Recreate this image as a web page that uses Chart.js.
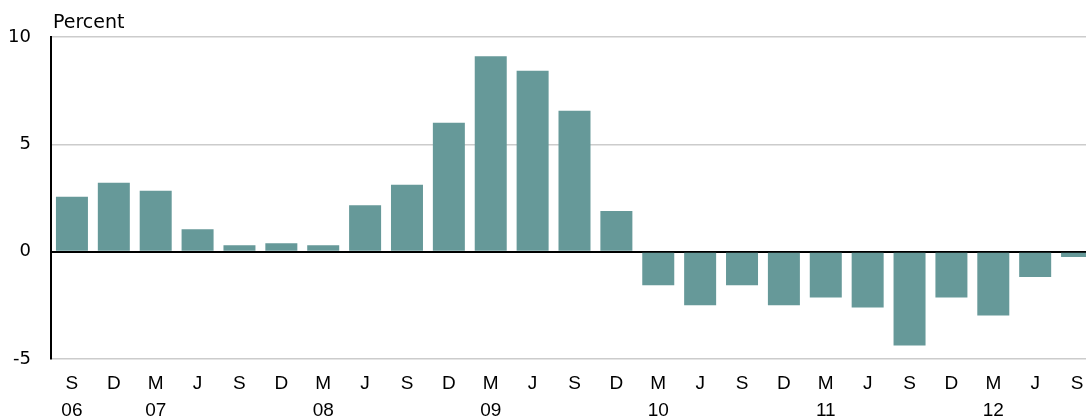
<!DOCTYPE html>
<html>
<head>
<meta charset="utf-8">
<script src="https://cdn.jsdelivr.net/npm/chart.js@4/dist/chart.umd.min.js"></script>
<style>
  html, body { margin: 0; padding: 0; background: #fff; overflow: hidden; }
  #wrap { width: 1100px; height: 419px; }
</style>
</head>
<body>
<div id="wrap"><canvas id="c" width="1100" height="419"></canvas></div>
<script>
const months = ['S','D','M','J','S','D','M','J','S','D','M','J','S','D','M','J','S','D','M','J','S','D','M','J','S'];
const years  = ['06','','07','','','','08','','','','09','','','','10','','','','11','','','','12','',''];
const values = [2.56, 3.21, 2.84, 1.04, 0.30, 0.39, 0.30, 2.16, 3.12, 6.00, 9.10, 8.43, 6.56, 1.89,
                -1.56, -2.50, -1.56, -2.50, -2.13, -2.60, -4.37, -2.13, -2.97, -1.18, -0.25];
const yTicks = [-5, 0, 5, 10];
const unitLabel = 'Percent';

const labels = months.map((m, i) => years[i] ? [m, years[i]] : [m]);
const FONT = "'Liberation Sans', Arial, sans-serif";
const FONT_WIDE = "'DejaVu Sans', 'Liberation Sans', sans-serif";

const unitPlugin = {
  id: 'unitLabel',
  afterDraw(chart) {
    const ctx = chart.ctx;
    ctx.save();
    ctx.font = "19px " + FONT_WIDE;
    ctx.fillStyle = '#000';
    ctx.textAlign = 'left';
    ctx.textBaseline = 'alphabetic';
    ctx.fillText(unitLabel, chart.chartArea.left + 2, 28);
    ctx.restore();
  }
};

new Chart(document.getElementById('c'), {
  type: 'bar',
  data: {
    labels: labels,
    datasets: [{
      data: values,
      backgroundColor: '#669999',
      borderWidth: 0,
      barPercentage: 0.764,
      categoryPercentage: 1.0
    }]
  },
  options: {
    responsive: false,
    animation: false,
    devicePixelRatio: 1,
    layout: { padding: { top: 37, right: 2, left: 0, bottom: 0 } },
    plugins: { legend: { display: false }, tooltip: { enabled: false }, title: { display: false } },
    scales: {
      x: {
        grid: { display: false, drawTicks: false },
        border: { display: false },
        ticks: {
          autoSkip: false, maxRotation: 0, minRotation: 0,
          color: '#000', padding: 12,
          font: { family: FONT, size: 19, lineHeight: 1.38 }
        },
        afterFit(scale) { scale.height = 60; }
      },
      y: {
        min: -5, max: 10,
        afterBuildTicks(scale) { scale.ticks = yTicks.map(v => ({ value: v })); },
        grid: {
          drawTicks: false,
          color: ctx => (ctx.tick && ctx.tick.value === 0) ? '#000000' : '#cccccc',
          lineWidth: ctx => (ctx.tick && ctx.tick.value === 0) ? 2 : 1.5
        },
        border: { display: true, color: '#000', width: 2 },
        ticks: {
          color: '#000', padding: 20,
          font: { family: FONT_WIDE, size: 18 }
        },
        afterFit(scale) { scale.width = 51; }
      }
    }
  },
  plugins: [unitPlugin]
});
</script>
</body>
</html>
